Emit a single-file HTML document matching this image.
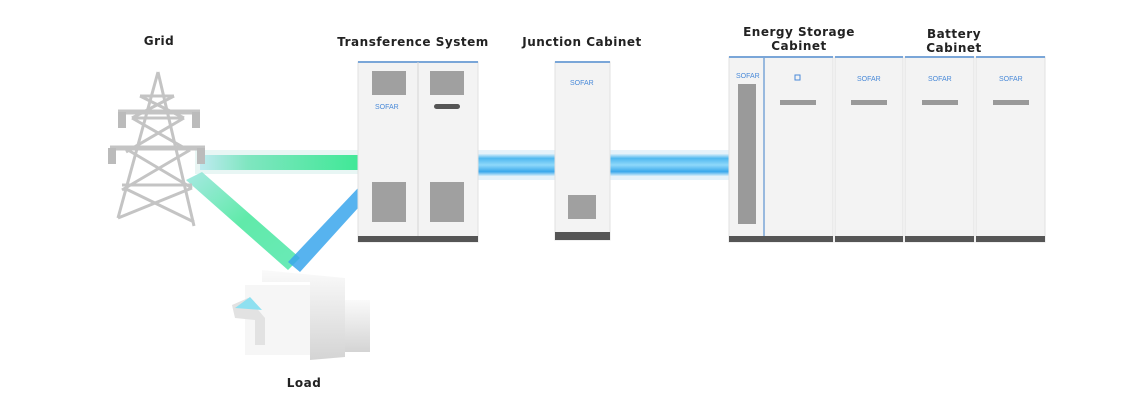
<!DOCTYPE html>
<html><head><style>
body{margin:0;background:#fff;}
svg{display:block;}
text{font-family:"DejaVu Sans","Liberation Sans",sans-serif;font-weight:bold;fill:#222;}
.s{font-size:7px;fill:#4a8ad8;font-weight:normal;font-family:"Liberation Sans",sans-serif;}
</style></head><body>
<svg width="1145" height="417" viewBox="0 0 1145 417" xmlns="http://www.w3.org/2000/svg">
<defs>
<linearGradient id="g1" x1="0" x2="1"><stop offset="0" stop-color="#bfeaf0"/><stop offset="0.3" stop-color="#7fe6c0"/><stop offset="1" stop-color="#3fe896"/></linearGradient>
<linearGradient id="bl" x1="0" x2="0" y1="0" y2="1"><stop offset="0" stop-color="#d8eefa"/><stop offset="0.2" stop-color="#4fb8f0"/><stop offset="0.5" stop-color="#8fd8fa"/><stop offset="0.8" stop-color="#3aa8ec"/><stop offset="1" stop-color="#d8eefa"/></linearGradient>
<linearGradient id="gd" x1="0" y1="0" x2="1" y2="1"><stop offset="0" stop-color="#9ee6e0"/><stop offset="0.5" stop-color="#4fe8a0"/><stop offset="1" stop-color="#5ae8b0"/></linearGradient>
<linearGradient id="hs" x1="0" x2="0" y1="0" y2="1"><stop offset="0" stop-color="#fafafa"/><stop offset="1" stop-color="#d4d4d4"/></linearGradient>
</defs>
<!-- beams -->
<rect x="195" y="150" width="165" height="24" fill="#e8f6f4"/>
<rect x="200" y="155" width="160" height="15" fill="url(#g1)"/>
<rect x="475" y="150" width="85" height="30" fill="#e6f2fa"/>
<rect x="478" y="154" width="80" height="22" fill="url(#bl)"/>
<rect x="607" y="150" width="125" height="30" fill="#e6f2fa"/>
<rect x="609" y="154" width="122" height="22" fill="url(#bl)"/>
<polygon points="186,180 202,172 300,258 288,270" fill="url(#gd)" opacity="0.9"/>
<polygon points="358,188 358,208 300,272 288,262" fill="#3aa6ec" opacity="0.85"/>
<!-- tower -->
<g stroke="#c4c4c4" stroke-width="3" fill="none">
<path d="M158 72 L118 218 M158 72 L194 226"/>
<path d="M132 118 L184 118 M127 148 L190 148 M140 96 L174 96 M122 185 L192 185"/>
<path d="M132 118 L188 150 M184 118 L126 152 M128 150 L192 188 M190 150 L122 190 M124 188 L194 222 M192 188 L118 218 M140 96 L184 118 M174 96 L132 118"/>
</g>
<g stroke="#c4c4c4" stroke-width="5" fill="none">
<path d="M118 112 L200 112 M110 148 L205 148"/>
</g>
<g fill="#bbb"><rect x="118" y="112" width="8" height="16"/><rect x="192" y="112" width="8" height="16"/><rect x="108" y="148" width="8" height="16"/><rect x="197" y="148" width="8" height="16"/></g>
<!-- house -->
<polygon points="262,270 345,278 345,357 310,360 310,282 262,282" fill="url(#hs)"/>
<rect x="245" y="285" width="65" height="70" fill="#f6f6f6"/>
<rect x="345" y="300" width="25" height="52" fill="url(#hs)"/>
<polygon points="232,305 248,298 265,318 265,345 255,345 255,320 235,318" fill="#e2e2e2"/>
<polygon points="235,308 250,297 262,310" fill="#8ee0f0"/>
<!-- transference -->
<rect x="358" y="62" width="120" height="180" fill="#f3f3f3" stroke="#e0e0e0"/>
<rect x="358" y="61" width="120" height="2" fill="#7aa6d8"/>
<line x1="418" y1="62" x2="418" y2="236" stroke="#d4d4d4"/>
<rect x="372" y="71" width="34" height="24" fill="#a0a0a0"/>
<rect x="430" y="71" width="34" height="24" fill="#a0a0a0"/>
<rect x="372" y="182" width="34" height="40" fill="#a0a0a0"/>
<rect x="430" y="182" width="34" height="40" fill="#a0a0a0"/>
<rect x="434" y="104" width="26" height="5" rx="2.5" fill="#555"/>
<text class="s" x="375" y="109">SOFAR</text>
<rect x="358" y="236" width="120" height="6" fill="#555"/>
<!-- junction -->
<rect x="555" y="62" width="55" height="178" fill="#f3f3f3" stroke="#e0e0e0"/>
<rect x="555" y="61" width="55" height="2" fill="#7aa6d8"/>
<text class="s" x="570" y="85">SOFAR</text>
<rect x="568" y="195" width="28" height="24" fill="#a0a0a0"/>
<rect x="555" y="232" width="55" height="8" fill="#555"/>
<!-- energy storage -->
<rect x="729" y="57" width="104" height="185" fill="#f3f3f3" stroke="#e0e0e0"/>
<rect x="729" y="56" width="104" height="2" fill="#7aa6d8"/>
<line x1="764" y1="57" x2="764" y2="236" stroke="#7aa6d8" stroke-width="1.5"/>
<text class="s" x="736" y="78">SOFAR</text>
<rect x="738" y="84" width="18" height="140" fill="#9a9a9a"/>
<rect x="795" y="75" width="5" height="5" fill="none" stroke="#4a8ad8"/>
<rect x="780" y="100" width="36" height="5" fill="#999"/>
<rect x="729" y="236" width="104" height="6" fill="#555"/>
<g>
<rect x="835" y="57" width="68" height="185" fill="#f3f3f3" stroke="#e0e0e0"/>
<rect x="835" y="56" width="68" height="2" fill="#7aa6d8"/>
<text class="s" x="857" y="81">SOFAR</text>
<rect x="851" y="100" width="36" height="5" fill="#999"/>
<rect x="835" y="236" width="68" height="6" fill="#555"/>
<rect x="905" y="57" width="69" height="185" fill="#f3f3f3" stroke="#e0e0e0"/>
<rect x="905" y="56" width="69" height="2" fill="#7aa6d8"/>
<text class="s" x="928" y="81">SOFAR</text>
<rect x="922" y="100" width="36" height="5" fill="#999"/>
<rect x="905" y="236" width="69" height="6" fill="#555"/>
<rect x="976" y="57" width="69" height="185" fill="#f3f3f3" stroke="#e0e0e0"/>
<rect x="976" y="56" width="69" height="2" fill="#7aa6d8"/>
<text class="s" x="999" y="81">SOFAR</text>
<rect x="993" y="100" width="36" height="5" fill="#999"/>
<rect x="976" y="236" width="69" height="6" fill="#555"/>
</g>
<!-- labels -->
<g font-size="12" text-anchor="middle" letter-spacing="0.5">
<text x="159" y="45">Grid</text>
<text x="413" y="46">Transference System</text>
<text x="582" y="46">Junction Cabinet</text>
<text x="799" y="36">Energy Storage</text>
<text x="799" y="50">Cabinet</text>
<text x="954" y="38">Battery</text>
<text x="954" y="52">Cabinet</text>
<text x="304" y="387">Load</text>
</g>
</svg>
</body></html>
